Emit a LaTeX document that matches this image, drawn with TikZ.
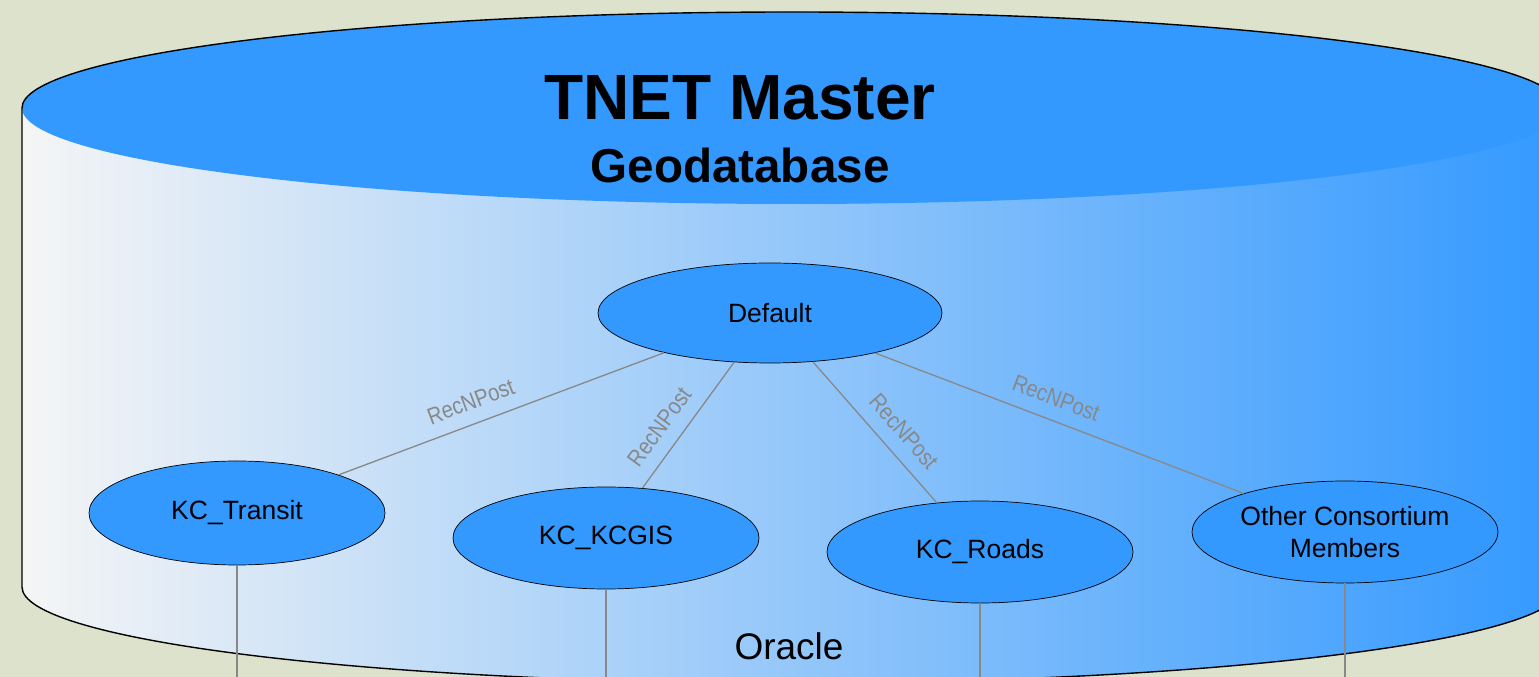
\documentclass[tikz,border=0pt]{standalone}
\usepackage{fontspec}
\setmainfont{Liberation Sans}
\newfontfamily\narrowfont[FakeStretch=0.86]{Liberation Sans}
\usepackage{xcolor}
\usepackage{tikz}
\usetikzlibrary{shapes.geometric}

\definecolor{dbblue}{RGB}{51,153,255}
\definecolor{paper}{RGB}{221,226,204}
\definecolor{sidegray}{RGB}{245,245,245}
\definecolor{linkgray}{RGB}{136,136,136}

\begin{document}
\begin{tikzpicture}[x=1pt, y=1pt,
    version/.style={ellipse, draw=black, line width=0.7pt, fill=dbblue, inner sep=0pt,
        align=center, font=\fontsize{26.5}{32}\selectfont},
    link/.style={draw=linkgray, line width=1.3pt},
    post/.style={sloped, above=10pt, text=linkgray, font=\narrowfont\fontsize{23.5}{26}\selectfont}]
    \useasboundingbox (0,0) rectangle (1539,677);
    \fill[paper] (0,0) rectangle (1539,677);

    % Cylinder body and top
    \shade[left color=sidegray, right color=dbblue] (22,569) -- (22,90)
        arc[start angle=180, end angle=360, x radius=770, y radius=96] -- (1562,569) -- cycle;
    \fill[dbblue] (792,569) ellipse [x radius=770, y radius=96];
    \draw[line width=1.4pt] (22,90) -- (22,569)
        arc[start angle=180, end angle=0, x radius=770, y radius=96] -- (1562,90)
        arc[start angle=0, end angle=-180, x radius=770, y radius=96];

    % Titles
    \node[anchor=base, font=\bfseries\fontsize{64}{70}\selectfont] (title) at (740,557) {TNET Master};
    \node[anchor=base, font=\bfseries\fontsize{47.6}{52}\selectfont] (subtitle) at (740,494) {Geodatabase};
    \node[anchor=base, font=\fontsize{37}{40}\selectfont] (oracle) at (789,17) {Oracle};

    % Versions
    \node[version, minimum width=344, minimum height=100] (def) at (770,364) {Default};
    \node[version, minimum width=296, minimum height=104] (trans) at (237,164) {KC\_Transit};
    \node[version, minimum width=306, minimum height=102] (kcgis) at (606,139) {KC\_KCGIS};
    \node[version, minimum width=306, minimum height=102] (roads) at (980,125) {KC\_Roads};
    \node[version, minimum width=306, minimum height=102] (other) at (1345,145) {Other Consortium\\Members};

    % Reconcile and post
    \draw[link] (def) -- node[post, pos=0.57] {RecNPost} (trans);
    \draw[link] (def) -- node[post, pos=0.62] {RecNPost} (kcgis);
    \draw[link] (def) -- node[post, pos=0.6] {RecNPost} (roads);
    \draw[link] (def) -- node[post, pos=0.47] {RecNPost} (other);

    % Down to the replicas
    \coordinate (bot) at (0,0);
    \draw[link] (trans.south) -- (trans.south |- bot);
    \draw[link] (kcgis.south) -- (kcgis.south |- bot);
    \draw[link] (roads.south) -- (roads.south |- bot);
    \draw[link] (other.south) -- (other.south |- bot);
\end{tikzpicture}
\end{document}
